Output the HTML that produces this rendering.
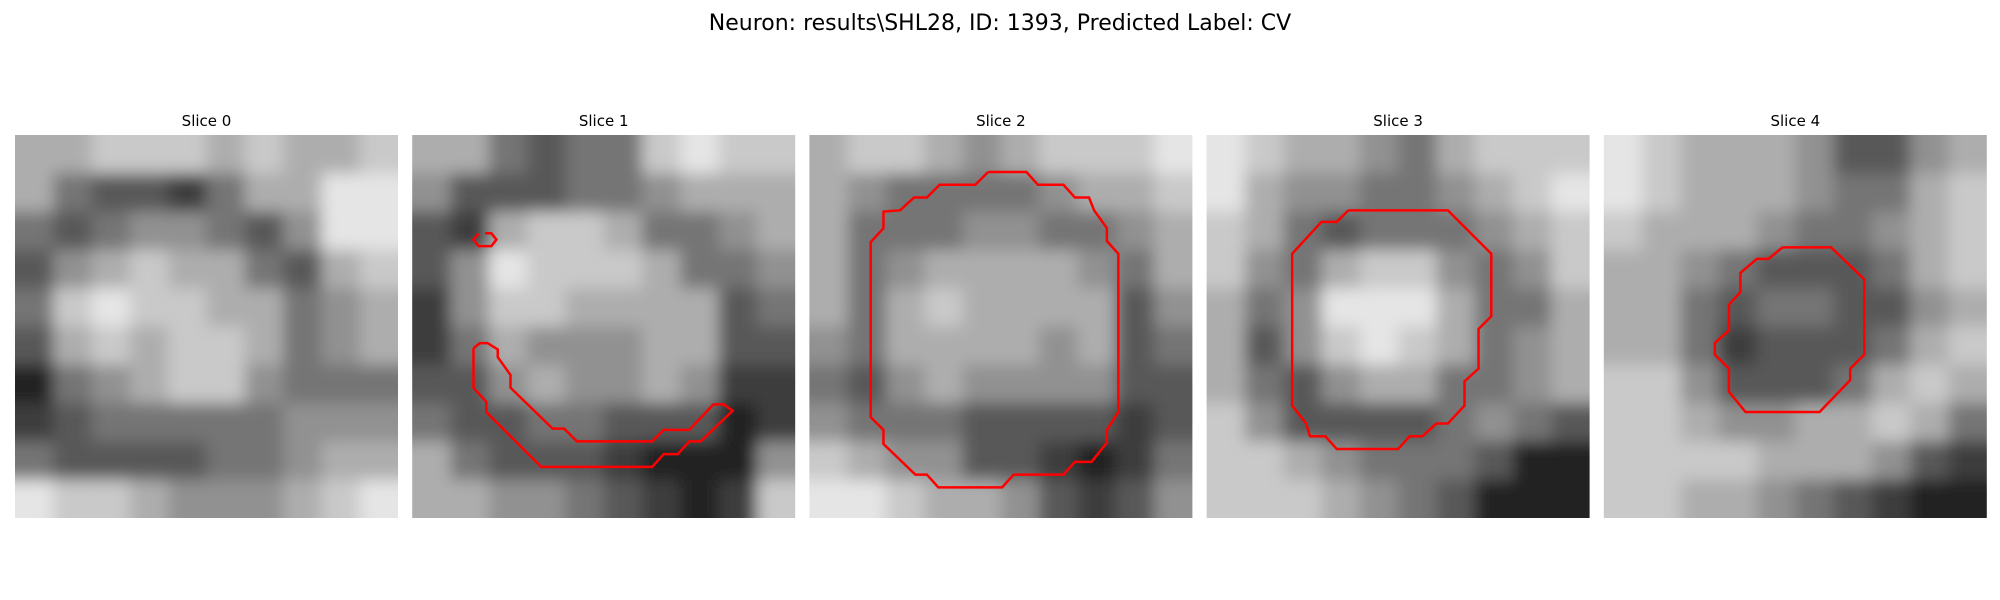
<!DOCTYPE html>
<html><head><meta charset="utf-8"><style>
html,body{margin:0;padding:0;background:#fff;}
svg{display:block;font-family:"DejaVu Sans","Liberation Sans",sans-serif;}
</style></head><body>
<svg id="chart" width="2000" height="600" viewBox="0 0 2000 600" xmlns="http://www.w3.org/2000/svg">
<defs id="defs">
<filter id="soft" x="-0.2" y="-0.2" width="1.4" height="1.4"><feGaussianBlur stdDeviation="8"/></filter>
</defs>
<text x="1000" y="30" text-anchor="middle" font-size="22">Neuron: results\SHL28, ID: 1393, Predicted Label: CV</text>
<g id="panels"></g>
</svg>
<script>
const sliceTitles = ["Slice 0","Slice 1","Slice 2","Slice 3","Slice 4"];
const slice0 = [
[6,6,7,7,7,6,7,6,6,7],[6,4,3,3,2,4,6,6,8,8],[4,3,4,5,5,4,3,5,8,8],[3,5,6,7,6,6,4,3,6,7],
[4,7,8,7,7,6,6,4,5,6],[3,6,7,6,7,7,6,4,5,6],[1,4,5,6,7,7,5,4,4,4],[2,3,4,4,4,4,4,5,5,5],
[4,3,3,3,3,4,4,5,6,6],[8,7,7,6,5,5,5,6,7,8]];
const slice1 = [
[6,6,4,3,4,4,7,8,7,7],[5,3,3,3,4,4,5,6,6,6],[3,2,6,7,7,6,4,4,5,6],[3,5,8,7,7,7,6,4,4,5],
[2,5,7,7,6,6,6,6,3,4],[2,4,6,5,5,5,6,6,3,3],[3,3,5,6,5,5,6,5,2,2],[4,3,3,4,4,3,3,3,1,2],
[6,4,3,3,3,2,1,1,1,5],[6,6,5,5,4,3,2,1,2,7]];
const slice2 = [
[6,7,7,6,5,6,7,7,7,8],[6,5,4,4,4,4,5,6,6,7],[6,4,4,4,5,5,4,4,5,6],[6,4,5,6,6,6,6,5,4,6],
[6,4,6,7,6,6,6,6,3,5],[5,4,6,6,6,6,5,6,3,4],[4,3,5,6,5,5,5,5,3,3],[5,4,4,4,3,3,3,3,2,3],
[7,6,5,5,3,3,2,1,2,4],[8,8,7,6,6,5,3,2,3,5]];
const slice3 = [
[8,7,6,6,5,4,6,7,7,7],[8,6,5,5,4,4,5,6,7,8],[7,6,4,3,4,4,4,5,6,7],[7,5,4,6,7,7,5,4,5,7],
[6,4,5,8,8,8,6,4,4,6],[6,3,5,7,8,7,6,4,5,6],[6,4,3,5,6,6,4,4,5,6],[7,5,3,3,3,3,4,5,4,3],
[7,7,6,5,4,4,4,3,1,1],[7,7,7,6,5,4,3,1,1,1]];
const slice4 = [
[8,7,6,6,6,5,3,3,5,6],[8,7,6,6,6,5,4,4,6,7],[7,6,6,6,5,4,4,5,6,7],[6,6,5,4,3,3,3,4,6,7],
[6,6,4,3,4,4,3,3,5,6],[6,6,4,2,3,3,3,4,6,7],[7,7,5,3,3,3,4,6,7,6],[7,7,6,5,5,6,6,7,6,4],
[7,7,7,7,6,6,6,5,3,2],[7,7,6,6,5,4,3,2,1,1]];
const contour1a = [[5.7,7.7],[6.2,7.7],[6.6,8.2],[6.2,8.7],[5.2,8.7],[4.8,8.2],[5.2,7.7]];
const contour1b = [[4.8,16.7],[5.3,16.3],[5.9,16.3],[6.7,16.8],[6.7,17.4],[7.7,18.8],[7.7,19.8],[11.0,23.0],[11.9,23.0],[12.9,24.0],[18.8,24.0],[19.7,23.1],[21.7,23.1],[23.6,21.1],[24.4,21.1],[25.1,21.6],[22.6,24.0],[21.7,24.0],[20.8,25.0],[19.7,25.0],[18.8,26.0],[10.1,26.0],[5.8,21.7],[5.8,20.9],[4.8,19.8],[4.8,16.7]];
const contour2 = [[14.0,2.9],[17.0,2.9],[17.9,3.9],[19.9,3.9],[20.8,4.9],[21.9,4.9],[22.3,5.9],[23.3,7.3],[23.3,8.3],[24.2,9.3],[24.2,21.7],[23.3,23.1],[23.3,24.1],[22.1,25.6],[20.8,25.6],[19.9,26.6],[16.0,26.6],[15.1,27.6],[10.1,27.6],[9.2,26.6],[8.3,26.6],[5.8,24.2],[5.8,23.1],[4.8,22.1],[4.8,8.4],[5.8,7.3],[5.8,6.0],[7.1,5.9],[8.2,4.9],[9.2,4.9],[10.2,3.9],[13.0,3.9],[14.0,2.9]];
const contour3 = [[11.1,5.9],[18.9,5.9],[22.3,9.3],[22.3,14.2],[21.3,15.2],[21.3,18.3],[20.2,19.3],[20.2,21.2],[18.9,22.6],[18.0,22.6],[16.9,23.6],[15.9,23.6],[15.0,24.6],[10.2,24.6],[9.3,23.6],[8.1,23.6],[7.8,22.6],[6.7,21.2],[6.7,9.3],[9.0,6.8],[10.2,6.8],[11.1,5.9]];
const contour4 = [[14.0,8.8],[17.8,8.8],[20.4,11.3],[20.4,17.2],[19.3,18.3],[19.3,19.2],[16.9,21.7],[11.1,21.7],[9.8,20.1],[9.8,18.3],[8.7,17.2],[8.7,16.3],[9.8,15.3],[9.8,13.3],[10.7,12.3],[10.7,10.8],[12.0,9.7],[12.9,9.7],[14.0,8.8]];

const slices=[slice0,slice1,slice2,slice3,slice4];
const contours=[[],[contour1a,contour1b],[contour2],[contour3],[contour4]];
const NS="http://www.w3.org/2000/svg";
const panelX0=15, panelStep=397.2, panelY0=135, panelSize=383, gridN=30, pad=30;
const g=document.getElementById('panels');
const defs=document.getElementById('defs');
function xs(p,c){return panelX0+p*panelStep+c*panelSize/gridN;}
function ys(r){return panelY0+r*panelSize/gridN;}
slices.forEach((grid,p)=>{
  const cp=document.createElementNS(NS,'clipPath');
  cp.setAttribute('id','clip'+p);
  const cr=document.createElementNS(NS,'rect');
  cr.setAttribute('x',xs(p,0));cr.setAttribute('y',ys(0));
  cr.setAttribute('width',panelSize);cr.setAttribute('height',panelSize);
  cp.appendChild(cr);defs.appendChild(cp);

  const pg=document.createElementNS(NS,'g');
  
  
  const clipG=document.createElementNS(NS,'g');
  clipG.setAttribute('clip-path','url(#clip'+p+')');
  const img=document.createElementNS(NS,'g');
  
  
  img.setAttribute('filter','url(#soft)');
  const n=grid.length, k=gridN/n;
  grid.forEach((row,r)=>row.forEach((v,c)=>{
    const rc=document.createElementNS(NS,'rect');
    
    
    let x0=xs(p,c*k), x1=xs(p,(c+1)*k), y0=ys(r*k), y1=ys((r+1)*k);
    if(c===0)x0-=pad; if(c===n-1)x1+=pad; if(r===0)y0-=pad; if(r===n-1)y1+=pad;
    rc.setAttribute('x',x0);rc.setAttribute('y',y0);
    rc.setAttribute('width',x1-x0+0.5);rc.setAttribute('height',y1-y0+0.5);
    const gv=Math.round(Math.min(255,v*28+5));
    rc.setAttribute('fill','rgb('+gv+','+gv+','+gv+')');
    img.appendChild(rc);
  }));
  clipG.appendChild(img);
  pg.appendChild(clipG);
  contours[p].forEach(ct=>{
    const pl=document.createElementNS(NS,'polyline');
    
    
    pl.setAttribute('points',ct.map(q=>xs(p,q[0])+','+ys(q[1])).join(' '));
    pl.setAttribute('fill','none');pl.setAttribute('stroke','#ff0000');pl.setAttribute('stroke-width','2.5');
    pg.appendChild(pl);
  });
  const t=document.createElementNS(NS,'text');
  
  
  t.setAttribute('x',xs(p,gridN/2));t.setAttribute('y',126);
  t.setAttribute('text-anchor','middle');t.setAttribute('font-size','15');
  t.textContent=sliceTitles[p];
  pg.appendChild(t);
  g.appendChild(pg);
});
</script>
</body></html>
